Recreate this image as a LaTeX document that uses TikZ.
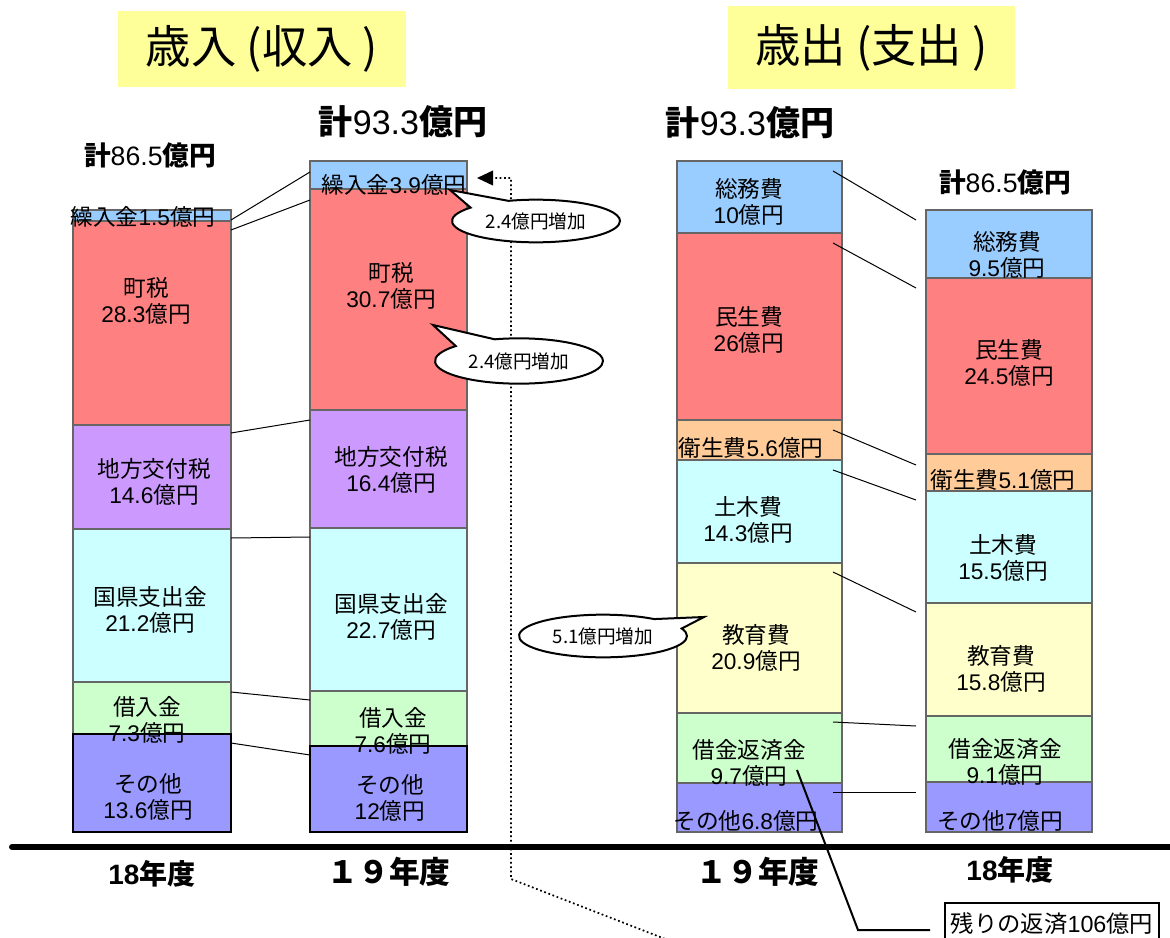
\documentclass[tikz,border=0pt]{standalone}
\usepackage{fontspec}
\setmainfont{Noto Sans CJK JP}
\newfontfamily\lat{Liberation Sans}
\newcommand\nm[1]{{\lat #1}}
\usetikzlibrary{arrows.meta,shapes.callouts,shapes.geometric}
\definecolor{cBlue}{HTML}{99CCFF}
\definecolor{cRed}{HTML}{FF8080}
\definecolor{cPurple}{HTML}{CC99FF}
\definecolor{cCyan}{HTML}{CCFFFF}
\definecolor{cGreen}{HTML}{CCFFCC}
\definecolor{cViolet}{HTML}{9999FF}
\definecolor{cOrange}{HTML}{FFCC99}
\definecolor{cYellow}{HTML}{FFFFCC}
\definecolor{cTitle}{HTML}{FFFF99}
\begin{document}
\begin{tikzpicture}[x=0.75pt,y=-0.75pt,
  seg/.style={draw=black!60, line width=1.1pt},
  otherseg/.style={draw=black, line width=1.9pt},
  lab/.style={font=\fontsize{17}{20}\selectfont, align=center, inner sep=0pt},
  conn/.style={draw=black, line width=0.75pt},
  bubble/.style={ellipse callout, draw=black, fill=white, line width=1.5pt,
    minimum width=126pt, minimum height=32pt, inner sep=0pt,
    callout pointer arc=32, font=\fontsize{14}{16}\selectfont},
  titlebox/.style={fill=cTitle, inner sep=0pt, font=\fontsize{34}{38}\selectfont},
  totsmall/.style={inner sep=0pt, font=\fontsize{20}{24}\selectfont},
  totbig/.style={inner sep=0pt, font=\fontsize{25.5}{30}\selectfont},
  yearsmall/.style={inner sep=0pt, font=\fontsize{21}{24}\selectfont\bfseries},
  yearbig/.style={inner sep=0pt, font=\fontsize{23}{26}\selectfont\bfseries}]
\useasboundingbox (0,0) rectangle (1170,938);

% titles
\node[titlebox, minimum width=216pt, minimum height=57pt] (tIn) at (262,49) {歳入 (収入 )};
\node[titlebox, minimum width=215pt, minimum height=62pt] (tOut) at (871.5,47.5) {歳出 (支出 )};

% totals
\node[totsmall] (sumA) at (150,155) {\textbf{計}\nm{86.5}\textbf{億円}};
\node[totbig] (sumB) at (403,122) {\textbf{計}\nm{93.3}\textbf{億円}};
\node[totbig] (sumC) at (750,123) {\textbf{計}\nm{93.3}\textbf{億円}};
\node[totsmall] (sumD) at (1005,182) {\textbf{計}\nm{86.5}\textbf{億円}};

% bar 1: revenue FY18
\draw[seg, fill=cBlue]   (73,210) rectangle (231,221);
\draw[seg, fill=cRed]    (73,221) rectangle (231,425);
\draw[seg, fill=cPurple] (73,425) rectangle (231,529);
\draw[seg, fill=cCyan]   (73,529) rectangle (231,682);
\draw[seg, fill=cGreen]  (73,682) rectangle (231,734);
\draw[otherseg, fill=cViolet] (73,734) rectangle (231,832);

% bar 2: revenue FY19
\draw[seg, fill=cBlue]   (310,161) rectangle (467,189);
\draw[seg, fill=cRed]    (310,189) rectangle (467,410);
\draw[seg, fill=cPurple] (310,410) rectangle (467,528);
\draw[seg, fill=cCyan]   (310,528) rectangle (467,691);
\draw[seg, fill=cGreen]  (310,691) rectangle (467,746);
\draw[otherseg, fill=cViolet] (310,746) rectangle (467,832);

% bar 3: expenditure FY19
\draw[seg, fill=cBlue]   (677,161) rectangle (842,233);
\draw[seg, fill=cRed]    (677,233) rectangle (842,420);
\draw[seg, fill=cOrange] (677,420) rectangle (842,460);
\draw[seg, fill=cCyan]   (677,460) rectangle (842,563);
\draw[seg, fill=cYellow] (677,563) rectangle (842,713);
\draw[seg, fill=cGreen]  (677,713) rectangle (842,783);
\draw[seg, fill=cViolet] (677,783) rectangle (842,832);

% bar 4: expenditure FY18
\draw[seg, fill=cBlue]   (926,210) rectangle (1092,278);
\draw[seg, fill=cRed]    (926,278) rectangle (1092,454);
\draw[seg, fill=cOrange] (926,454) rectangle (1092,491);
\draw[seg, fill=cCyan]   (926,491) rectangle (1092,603);
\draw[seg, fill=cYellow] (926,603) rectangle (1092,716);
\draw[seg, fill=cGreen]  (926,716) rectangle (1092,782);
\draw[seg, fill=cViolet] (926,782) rectangle (1092,832);

% connector end points
\coordinate (a1) at (231,220); \coordinate (b1) at (310,172);
\coordinate (a2) at (231,230); \coordinate (b2) at (310,200);
\coordinate (a3) at (231,433); \coordinate (b3) at (310,420);
\coordinate (a4) at (231,538); \coordinate (b4) at (310,537);
\coordinate (a5) at (231,692); \coordinate (b5) at (310,700);
\coordinate (a6) at (231,743); \coordinate (b6) at (310,755);
\coordinate (c1) at (833,171); \coordinate (d1) at (916,220);
\coordinate (c2) at (833,243); \coordinate (d2) at (916,288);
\coordinate (c3) at (833,430); \coordinate (d3) at (916,465);
\coordinate (c4) at (833,470); \coordinate (d4) at (916,500);
\coordinate (c5) at (833,572); \coordinate (d5) at (916,612);
\coordinate (c6) at (833,722); \coordinate (d6) at (916,726);
\coordinate (c7) at (833,792); \coordinate (d7) at (916,792);
\foreach \i in {1,...,6} {\draw[conn] (a\i) -- (b\i);}
\foreach \i in {1,...,7} {\draw[conn] (c\i) -- (d\i);}

% labels bar 1
\node[lab] (l11) at (143,217) {繰入金\nm{1.5}億円};
\node[lab] (l12) at (146,301) {町税\\\nm{28.3}億円};
\node[lab] (l13) at (154,482) {地方交付税\\\nm{14.6}億円};
\node[lab] (l14) at (150,610) {国県支出金\\\nm{21.2}億円};
\node[lab] (l15) at (147,720) {借入金\\\nm{7.3}億円};
\node[lab] (l16) at (148,797) {その他\\\nm{13.6}億円};

% labels bar 2
\node[lab] (l21) at (394,185) {繰入金\nm{3.9}億円};
\node[lab] (l22) at (391,286) {町税\\\nm{30.7}億円};
\node[lab] (l23) at (391,470) {地方交付税\\\nm{16.4}億円};
\node[lab] (l24) at (391,617) {国県支出金\\\nm{22.7}億円};
\node[lab] (l25) at (393,731) {借入金\\\nm{7.6}億円};
\node[lab] (l26) at (390,798) {その他\\\nm{12}億円};

% labels bar 3
\node[lab] (l31) at (749,202) {総務費\\\nm{10}億円};
\node[lab] (l32) at (749,330) {民生費\\\nm{26}億円};
\node[lab] (l33) at (751,448) {衛生費\nm{5.6}億円};
\node[lab] (l34) at (748,520) {土木費\\\nm{14.3}億円};
\node[lab] (l35) at (756,648) {教育費\\\nm{20.9}億円};
\node[lab] (l36) at (749,763) {借金返済金\\\nm{9.7}億円};
\node[lab] (l37) at (746,821) {その他\nm{6.8}億円};

% labels bar 4
\node[lab] (l41) at (1007,255) {総務費\\\nm{9.5}億円};
\node[lab] (l42) at (1009,363) {民生費\\\nm{24.5}億円};
\node[lab] (l43) at (1003,480) {衛生費\nm{5.1}億円};
\node[lab] (l44) at (1003,558) {土木費\\\nm{15.5}億円};
\node[lab] (l45) at (1001,669) {教育費\\\nm{15.8}億円};
\node[lab] (l46) at (1005,762) {借金返済金\\\nm{9.1}億円};
\node[lab] (l47) at (1000,821) {その他\nm{7}億円};

% baseline
\coordinate (axL) at (12,847);
\coordinate (axR) at (1175,847);
\draw[line width=4.5pt, line cap=round] (axL) -- (axR);

% year labels
\node[yearsmall] (y1) at (152,874) {\nm{18}年度};
\node[yearbig] (y2) at (389,872) {１９年度};
\node[yearbig] (y3) at (758,872) {１９年度};
\node[yearsmall] (y4) at (1010,870) {\nm{18}年度};

% dotted arrow
\coordinate (dA) at (673,942);
\coordinate (dB) at (511,879);
\coordinate (dC) at (511,178);
\coordinate (dD) at (477,178);
\draw[dotted, line width=1.3pt, -{Triangle[length=12pt,width=11pt]}] (dA) -- (dB) -- (dC) -- (dD);

% callouts
\node[bubble, callout absolute pointer={(450,190)}] (bA) at (536,221) {2.4億円増加};
\node[bubble, callout absolute pointer={(433,325)}, minimum height=34pt] (bB) at (519,361) {2.4億円増加};
\node[bubble, callout absolute pointer={(704,617)}] (bC) at (603,636) {5.1億円増加};

% remaining repayment
\node[draw=black, line width=1.5pt, minimum width=160pt, minimum height=32pt, inner sep=0pt,
  font=\fontsize{17.5}{20}\selectfont] (rb) at (1052,924) {残りの返済\nm{106}億円};
\coordinate (lA) at (797,770);
\coordinate (lB) at (858,930);
\coordinate (lC) at (930,930);
\draw[line width=1.5pt] (lA) -- (lB) -- (lC);
\end{tikzpicture}
\end{document}
